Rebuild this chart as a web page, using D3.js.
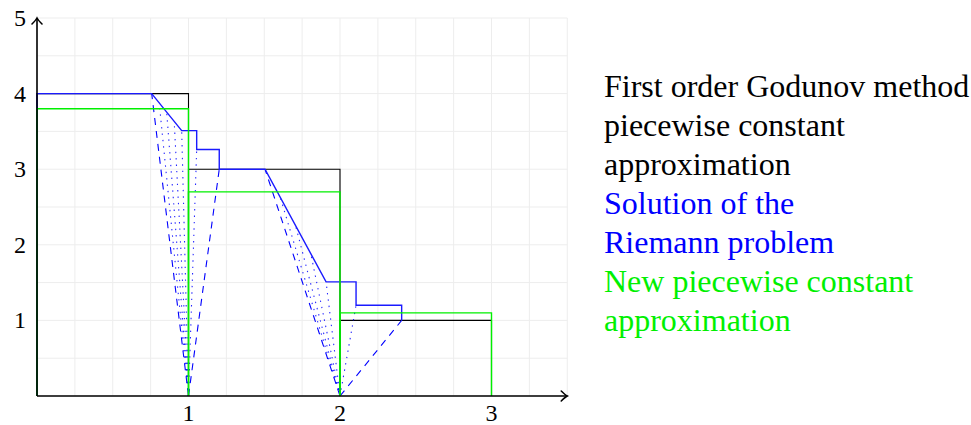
<!DOCTYPE html>
<html><head><meta charset="utf-8">
<script src="https://cdn.jsdelivr.net/npm/d3@7"></script>
<style>body{margin:0;background:#fff}svg{display:block}</style>
</head><body>
<svg id="c" width="971" height="425"></svg>
<script>
// ---- data ----
const cellEdges = [0, 1, 2, 3];
const oldValues = [4, 3, 1];          // first order piecewise constant
const newValues = [3.8, 2.7, 1.1];    // new piecewise constant
const riemannX = [0, 0, 0.757, 0.955, 1.054, 1.054, 1.203, 1.203, 1.505, 1.908, 2.106, 2.106, 2.407, 2.407];
const riemannY = [0, 4, 4, 3.51, 3.51, 3.26, 3.26, 3, 3, 1.51, 1.51, 1.2, 1.2, 1];
const interfaces = [1, 2];
// rarefaction head/tail on each interface
const rarefHead = [[0.757, 4], [1.505, 3]];
const rarefTail = [[0.955, 3.51], [1.908, 1.51]];
const stepCorner = [[1.054, 3.26], [2.106, 1.2]];
const shockEnd = [[1.203, 3], [2.407, 1]];
const fanFractions = [0.25, 0.5, 0.75, 1];
const xTicks = [1, 2, 3];
const yTicks = [1, 2, 3, 4, 5];
const legendBlack = ["First order Godunov method", "piecewise constant", "approximation"];
const legendBlue = ["Solution of the", "Riemann problem"];
const legendGreen = ["New piecewise constant", "approximation"];

// ---- drawing ----
const FONT = "'Liberation Serif'";
const svg = d3.select("#c");
const x = d3.scaleLinear().domain([0, 3.5]).range([37, 567.25]);
const y = d3.scaleLinear().domain([0, 5]).range([396, 18]);
const line = d3.line().x(d => x(d[0])).y(d => y(d[1]));

// grid
const g = svg.append("g");
g.selectAll("line.v").data(d3.range(0, 3.5001, 0.25)).join("line")
  .attr("x1", d => x(d)).attr("x2", d => x(d)).attr("y1", y(0)).attr("y2", y(5))
  .attr("stroke", "#ededed").attr("stroke-width", 1);
g.selectAll("line.h").data(d3.range(0, 5.001, 0.5)).join("line")
  .attr("y1", d => y(d)).attr("y2", d => y(d)).attr("x1", x(0)).attr("x2", x(3.5))
  .attr("stroke", "#ededed").attr("stroke-width", 1);

function cells(vals) {
  return vals.map((v, i) => [[cellEdges[i], 0], [cellEdges[i], v], [cellEdges[i + 1], v], [cellEdges[i + 1], 0]]);
}

// black piecewise constant
svg.append("g").selectAll("path").data(cells(oldValues)).join("path")
  .attr("d", line).attr("fill", "none").attr("stroke", "#000").attr("stroke-width", 1.1);

// fans
const fan = svg.append("g");
interfaces.forEach((xi, k) => {
  const h = rarefHead[k], t = rarefTail[k];
  [h, shockEnd[k]].forEach(p => {
    fan.append("path").attr("d", line([[xi, 0], p])).attr("fill", "none")
      .attr("stroke", "#0000ff").attr("stroke-width", 1.1).attr("stroke-dasharray", "7,6");
  });
  const pts = fanFractions.map(f => [h[0] + f * (t[0] - h[0]), h[1] + f * (t[1] - h[1])]);
  pts.push(stepCorner[k]);
  pts.forEach(p => {
    fan.append("path").attr("d", line([[xi, 0], p])).attr("fill", "none")
      .attr("stroke", "#0000ff").attr("stroke-opacity", 0.85).attr("stroke-width", 1.1)
      .attr("stroke-dasharray", "1.4,5");
  });
});

// blue solution
svg.append("path").datum(riemannX.map((v, i) => [v, riemannY[i]]))
  .attr("d", line).attr("fill", "none").attr("stroke", "#1a1aff").attr("stroke-width", 1.4);

// green new piecewise
svg.append("g").selectAll("path").data(cells(newValues)).join("path")
  .attr("d", line).attr("fill", "none").attr("stroke", "#00f000").attr("stroke-width", 1.4);

// axes
const ax = svg.append("g").attr("stroke", "#000").attr("stroke-width", 1.6).attr("fill", "none");
ax.append("line").attr("x1", x(0)).attr("x2", x(3.5)).attr("y1", y(0)).attr("y2", y(0));
ax.append("line").attr("x1", x(0)).attr("x2", x(0)).attr("y1", y(0)).attr("y2", y(5));
const tx = x(3.5), ty = y(0);
ax.append("path").attr("d", `M${tx-6},${ty-5} Q${tx-2},${ty-1} ${tx},${ty} Q${tx-2},${ty+1} ${tx-6},${ty+5}`).attr("stroke-linecap", "round");
const ux = x(0), uy = y(5);
ax.append("path").attr("d", `M${ux-5},${uy+6} Q${ux-1},${uy+2} ${ux},${uy} Q${ux+1},${uy+2} ${ux+5},${uy+6}`).attr("stroke-linecap", "round");

svg.append("g").selectAll("text").data(xTicks).join("text")
  .attr("x", d => x(d)).attr("y", y(0) + 25).attr("text-anchor", "middle")
  .style("font-family", FONT).attr("font-size", 24).attr("fill", "#000").text(d => d);
svg.append("g").selectAll("text").data(yTicks).join("text")
  .attr("x", 26).attr("y", d => y(d) + 8).attr("text-anchor", "end")
  .style("font-family", FONT).attr("font-size", 24).attr("fill", "#000").text(d => d);

// legend
const legend = [].concat(
  legendBlack.map(t => ({t, c: "#000"})),
  legendBlue.map(t => ({t, c: "#0000ff"})),
  legendGreen.map(t => ({t, c: "#00f000"})));
svg.append("g").selectAll("text").data(legend).join("text")
  .attr("x", 604).attr("y", (d, i) => 97 + i * 39)
  .style("font-family", FONT).attr("font-size", 32).attr("fill", d => d.c).text(d => d.t);
</script>
</body></html>
